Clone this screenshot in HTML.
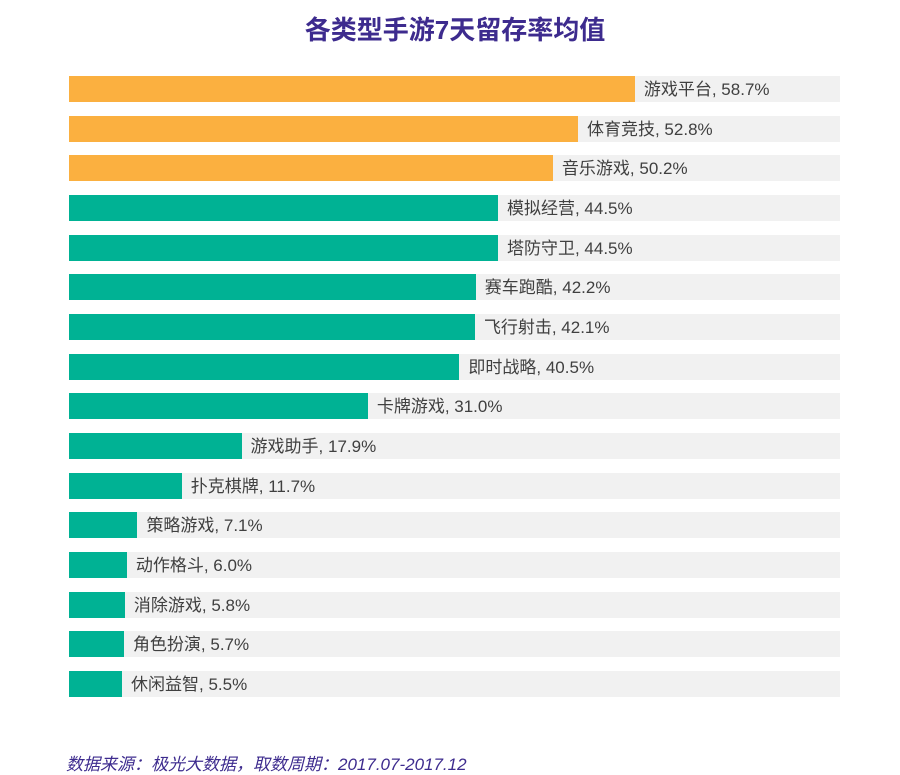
<!DOCTYPE html>
<html><head><meta charset="utf-8"><style>
body{margin:0;width:900px;height:770px;background:#fff;position:relative;overflow:hidden;font-family:"Liberation Sans","Noto Sans CJK SC",sans-serif}
.t{position:absolute;left:0;width:910px;top:10px;text-align:center;font-size:26px;font-weight:bold;color:#3d2b8e}
.bg{position:absolute;left:69px;width:771px;height:26px;background:#f1f1f1}
.b{position:absolute;left:69px;height:26px}
.l{position:absolute;font-size:17px;color:#404040;line-height:26px;white-space:nowrap}
.f{position:absolute;left:66px;top:750px;font-size:17px;font-style:italic;color:#3d2b8e}
</style></head><body>
<div class="t">各类型手游7天留存率均值</div>
<div id="c"></div>
<div class="f">数据来源：极光大数据，取数周期：2017.07-2017.12</div>
<script>
var d=[["游戏平台",58.7],["体育竞技",52.8],["音乐游戏",50.2],["模拟经营",44.5],["塔防守卫",44.5],["赛车跑酷",42.2],["飞行射击",42.1],["即时战略",40.5],["卡牌游戏",31.0],["游戏助手",17.9],["扑克棋牌",11.7],["策略游戏",7.1],["动作格斗",6.0],["消除游戏",5.8],["角色扮演",5.7],["休闲益智",5.5]];
var h="";
d.forEach(function(r,i){var y=76+i*39.67;var w=r[1]*9.64;var col=i<3?"#fbb040":"#00b294";
h+='<div class="bg" style="top:'+y+'px"></div><div class="b" style="top:'+y+'px;width:'+w+'px;background:'+col+'"></div><div class="l" style="top:'+(y+1)+'px;left:'+(69+w+9)+'px">'+r[0]+', '+r[1].toFixed(1)+'%</div>';});
document.getElementById("c").innerHTML=h;
</script>
</body></html>
